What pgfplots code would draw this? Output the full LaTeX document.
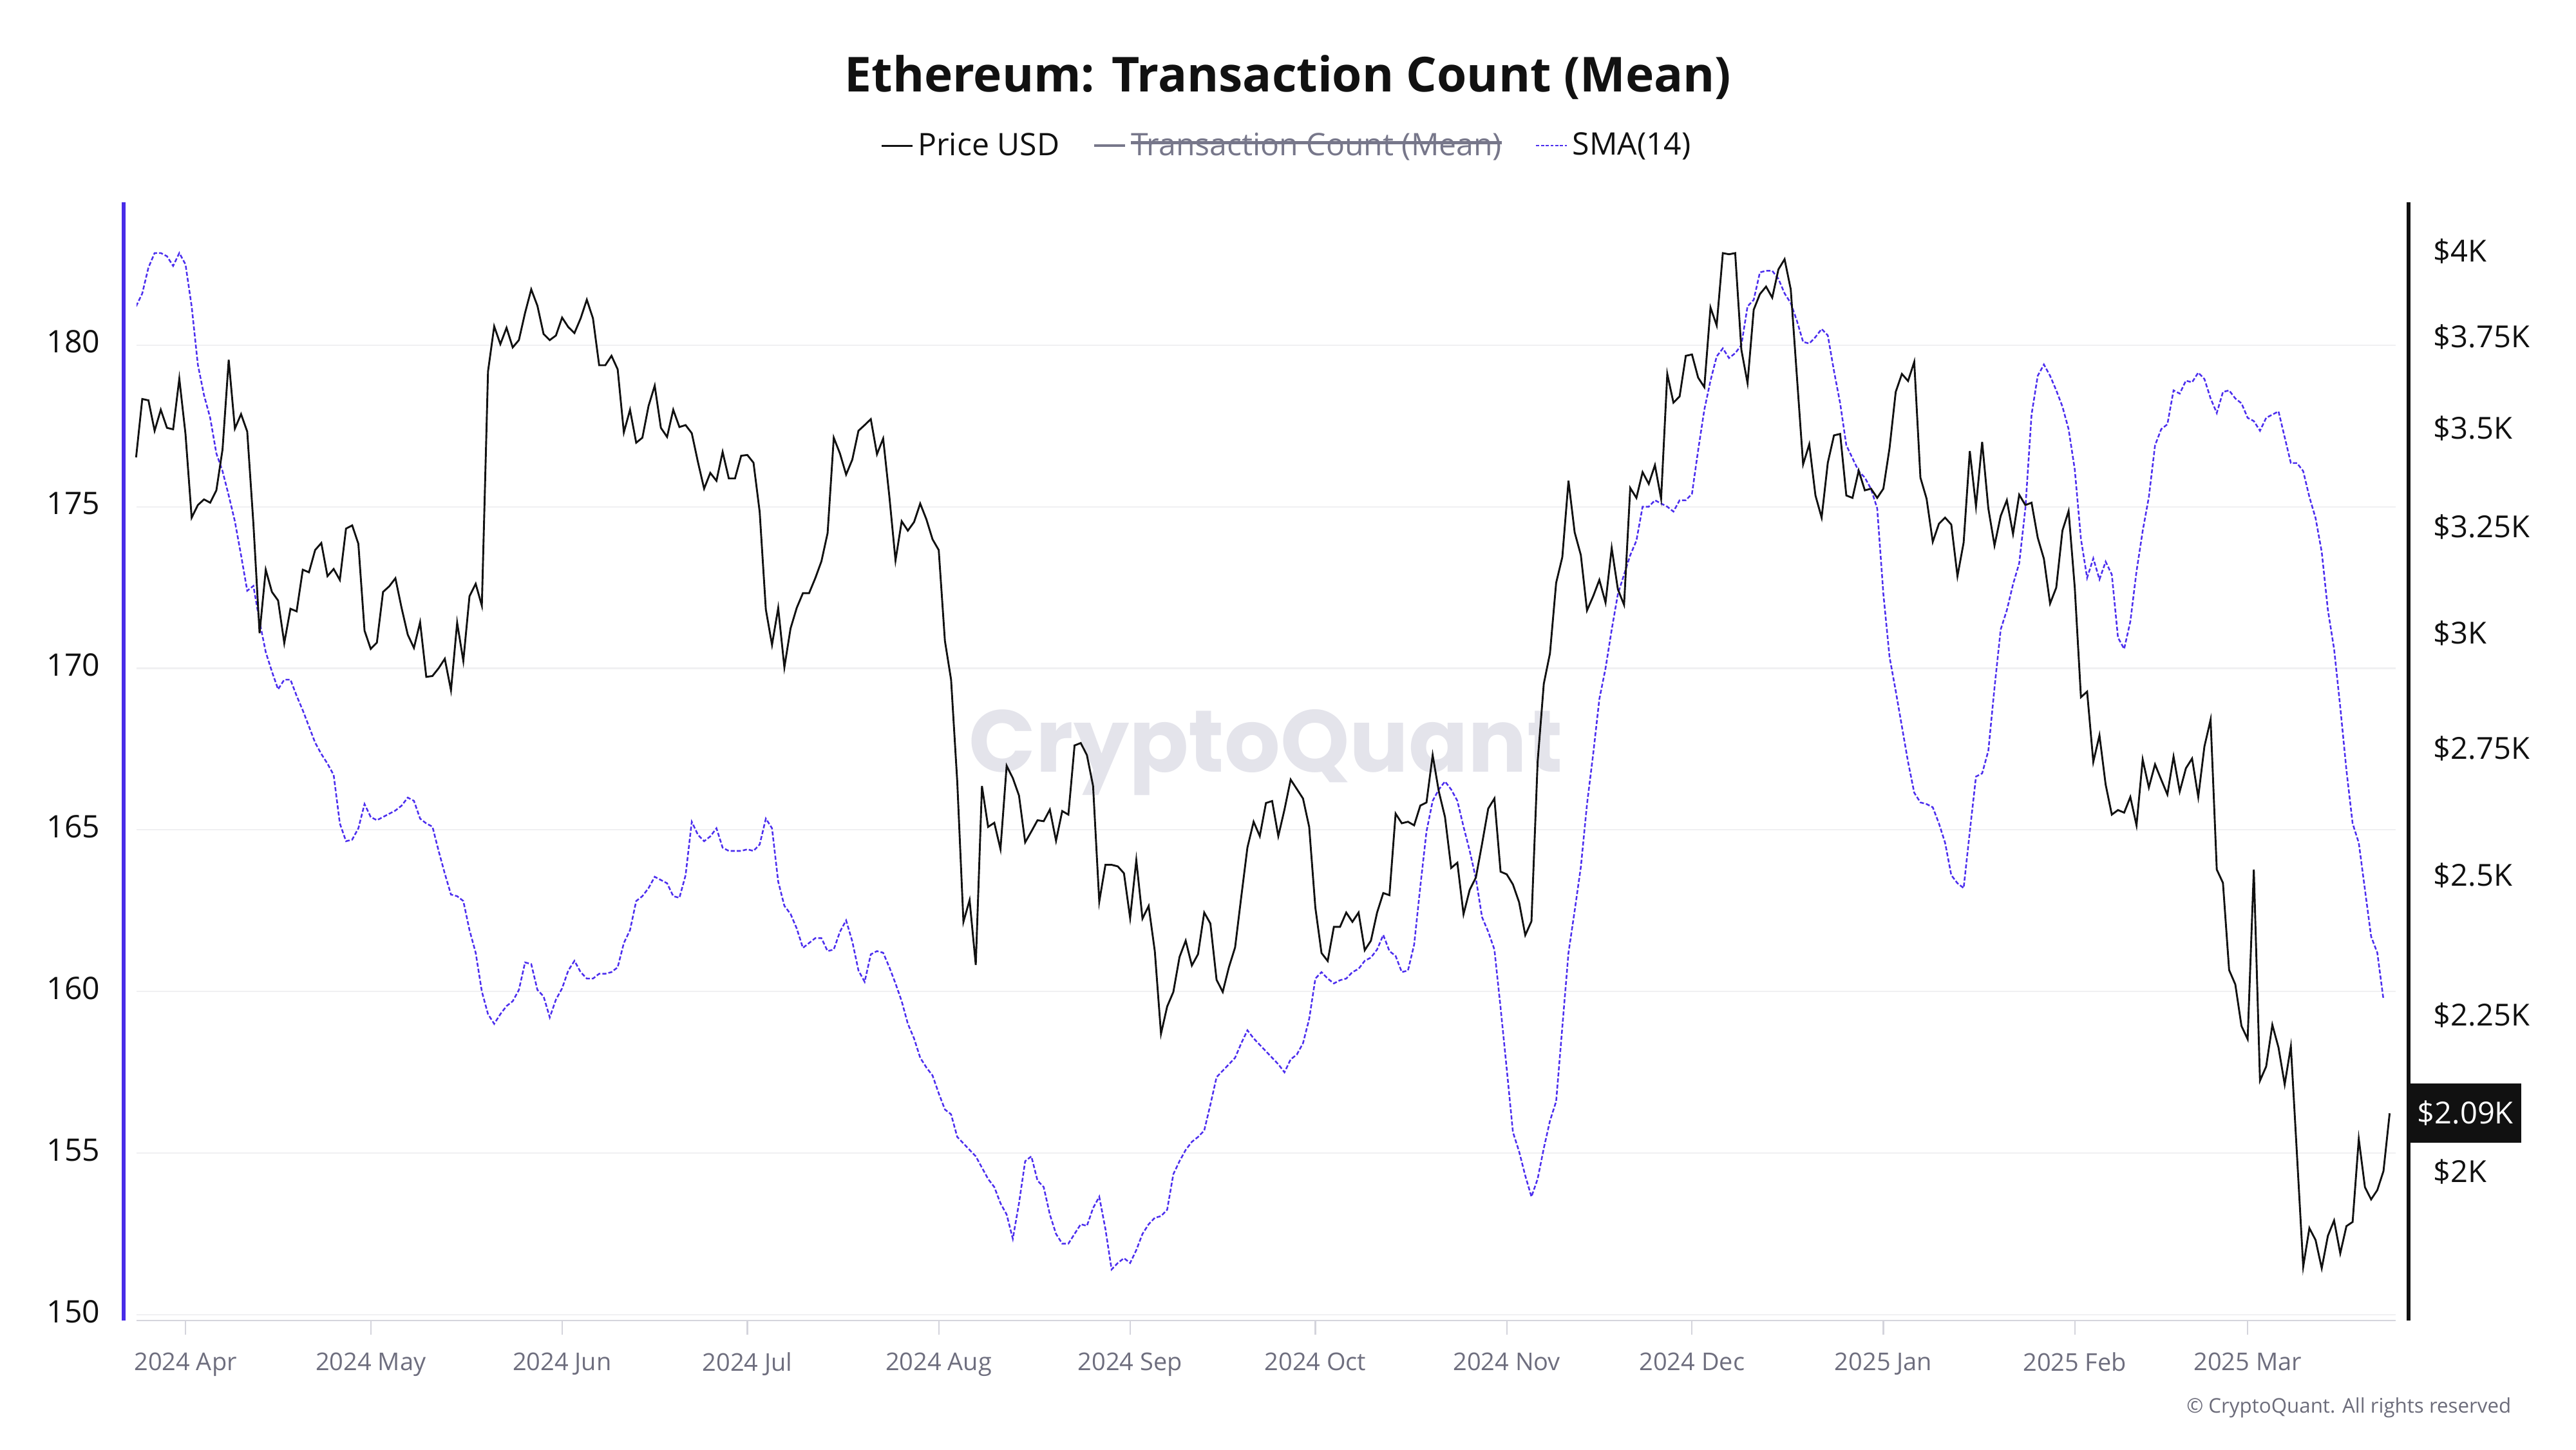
\documentclass[border=0pt]{standalone}
\usepackage{pgfplots}
\pgfplotsset{compat=1.18}
\usepackage{pgfplotstable}
\usepackage{fontspec}
\usepackage{graphicx}
\setmainfont{Open Sans}
\newfontfamily\wmfont{Poppins}
\newlength\stw
\newcommand\strike[1]{\settowidth\stw{#1}\rlap{#1}\raisebox{0.36em}{\rule{\stw}{1.4pt}}}

\definecolor{smablue}{RGB}{76,46,238}
\definecolor{axisblue}{RGB}{72,44,232}
\definecolor{ticktext}{RGB}{110,110,126}
\definecolor{axisgray}{RGB}{212,212,220}
\definecolor{gridgray}{RGB}{240,240,242}
\definecolor{legendgray}{RGB}{119,119,138}
\definecolor{wm}{RGB}{228,228,235}
\definecolor{txt}{RGB}{17,17,17}
\definecolor{copyg}{RGB}{108,108,122}

\pgfplotstableread{
d p
-8 3425
-7 3579
-6 3575
-5 3494
-4 3550
-3 3502
-2 3498
-1 3634
0 3486
1 3273
2 3304
3 3318
4 3310
5 3341
6 3445
7 3686
8 3500
9 3538
10 3492
11 3258
12 3000
13 3147
14 3095
15 3075
16 2978
17 3056
18 3050
19 3147
20 3141
21 3194
22 3211
23 3132
24 3149
25 3123
26 3246
27 3254
28 3209
29 3006
30 2965
31 2979
32 3095
33 3108
34 3127
35 3058
36 2997
37 2967
38 3025
39 2903
40 2905
41 2922
42 2943
43 2874
44 3024
45 2938
46 3085
47 3114
48 3063
49 3654
50 3780
51 3730
52 3776
53 3721
54 3741
55 3819
56 3887
57 3839
58 3758
59 3741
60 3754
61 3805
62 3778
63 3761
64 3803
65 3857
66 3803
67 3671
68 3671
69 3697
70 3660
71 3490
72 3550
73 3463
74 3476
75 3560
76 3615
77 3502
78 3478
79 3550
80 3504
81 3509
82 3488
83 3413
84 3345
85 3385
86 3365
87 3439
88 3371
89 3371
90 3429
91 3431
92 3411
93 3287
94 3054
95 2974
96 3058
97 2924
98 3011
99 3058
100 3092
101 3092
102 3127
103 3167
104 3235
105 3476
106 3435
107 3381
108 3419
109 3494
110 3509
111 3525
112 3433
113 3474
114 3326
115 3169
116 3264
117 3241
118 3262
119 3308
120 3269
121 3220
122 3194
123 2983
124 2897
125 2683
126 2414
127 2454
128 2337
129 2674
130 2593
131 2601
132 2550
133 2715
134 2690
135 2655
136 2563
137 2584
138 2606
139 2604
140 2627
141 2566
142 2624
143 2617
144 2757
145 2762
146 2737
147 2674
148 2451
149 2520
150 2520
151 2517
152 2504
153 2421
154 2529
155 2420
156 2443
157 2361
158 2219
159 2265
160 2290
161 2351
162 2380
163 2336
164 2356
165 2431
166 2411
167 2311
168 2290
169 2333
170 2368
171 2460
172 2553
173 2603
174 2575
175 2640
176 2644
177 2575
178 2627
179 2687
180 2668
181 2649
182 2593
183 2440
184 2358
185 2344
186 2405
187 2405
188 2431
189 2414
190 2431
191 2363
192 2380
193 2431
194 2467
195 2463
196 2619
197 2600
198 2603
199 2596
200 2635
201 2641
202 2737
203 2663
204 2612
205 2514
206 2524
207 2428
208 2473
209 2496
210 2560
211 2629
212 2649
213 2507
214 2502
215 2483
216 2450
217 2390
218 2415
219 2723
220 2888
221 2955
222 3116
223 3177
224 3365
225 3237
226 3182
227 3052
228 3085
229 3123
230 3070
231 3199
232 3101
233 3065
234 3347
235 3322
236 3387
237 3357
238 3405
239 3320
240 3647
241 3569
242 3586
243 3697
244 3701
245 3637
246 3611
247 3834
248 3783
249 3995
250 3991
251 3995
252 3714
253 3622
254 3828
255 3873
256 3895
257 3863
258 3946
259 3976
260 3887
261 3639
262 3407
263 3459
264 3328
265 3273
266 3411
267 3482
268 3486
269 3328
270 3322
271 3391
272 3341
273 3345
274 3322
275 3345
276 3449
277 3598
278 3647
279 3628
280 3680
281 3373
282 3320
283 3214
284 3258
285 3273
286 3256
287 3132
288 3212
289 3441
290 3301
291 3465
292 3296
293 3205
294 3277
295 3316
296 3233
297 3330
298 3304
299 3310
300 3224
301 3173
302 3068
303 3105
304 3241
305 3289
306 3105
307 2859
308 2871
309 2723
310 2778
311 2677
312 2617
313 2626
314 2621
315 2652
316 2596
317 2728
318 2671
319 2718
320 2687
321 2657
322 2734
323 2663
324 2710
325 2730
326 2652
327 2755
328 2811
329 2511
330 2486
331 2328
332 2303
333 2232
334 2210
335 2511
336 2142
337 2165
338 2234
339 2196
340 2136
341 2198
342 2024
343 1862
344 1917
345 1900
346 1860
347 1906
348 1928
349 1881
350 1920
351 1926
352 2050
353 1977
354 1959
355 1973
356 2001
357 2090
}\price

\pgfplotstableread{
d s
-8 181.2
-7 181.6
-6 182.4
-5 182.85
-4 182.85
-3 182.75
-2 182.45
-1 182.85
0 182.5
1 181.2
2 179.4
3 178.45
4 177.75
5 176.65
6 176.1
7 175.35
8 174.55
9 173.5
10 172.4
11 172.55
12 171.45
13 170.5
14 169.9
15 169.35
16 169.65
17 169.65
18 169.15
19 168.7
20 168.2
21 167.7
22 167.35
23 167.05
24 166.7
25 165.2
26 164.65
27 164.7
28 165.05
29 165.8
30 165.4
31 165.3
32 165.4
33 165.5
34 165.6
35 165.75
36 166.0
37 165.9
38 165.35
39 165.2
40 165.1
41 164.35
42 163.65
43 163.0
44 162.95
45 162.8
46 161.9
47 161.2
48 160.0
49 159.3
50 159.0
51 159.3
52 159.55
53 159.7
54 160.05
55 160.9
56 160.85
57 160.05
58 159.85
59 159.2
60 159.75
61 160.1
62 160.65
63 160.95
64 160.6
65 160.4
66 160.4
67 160.55
68 160.55
69 160.6
70 160.75
71 161.5
72 161.9
73 162.8
74 162.95
75 163.2
76 163.55
77 163.45
78 163.35
79 162.95
80 162.9
81 163.6
82 165.25
83 164.85
84 164.65
85 164.8
86 165.05
87 164.45
88 164.35
89 164.35
90 164.35
91 164.4
92 164.35
93 164.55
94 165.35
95 165.05
96 163.4
97 162.65
98 162.4
99 161.95
100 161.35
101 161.5
102 161.65
103 161.65
104 161.25
105 161.3
106 161.85
107 162.2
108 161.55
109 160.65
110 160.3
111 161.15
112 161.25
113 161.2
114 160.75
115 160.25
116 159.7
117 159.0
118 158.55
119 157.95
120 157.65
121 157.4
122 156.85
123 156.35
124 156.2
125 155.5
126 155.3
127 155.1
128 154.9
129 154.55
130 154.2
131 153.95
132 153.45
133 153.1
134 152.35
135 153.45
136 154.75
137 154.9
138 154.15
139 153.95
140 153.1
141 152.5
142 152.2
143 152.2
144 152.5
145 152.8
146 152.75
147 153.3
148 153.65
149 152.65
150 151.4
151 151.6
152 151.75
153 151.6
154 152.0
155 152.5
156 152.8
157 153.0
158 153.05
159 153.25
160 154.35
161 154.75
162 155.1
163 155.35
164 155.5
165 155.7
166 156.5
167 157.35
168 157.55
169 157.75
170 157.95
171 158.4
172 158.8
173 158.55
174 158.35
175 158.15
176 157.95
177 157.75
178 157.5
179 157.9
180 158.05
181 158.4
182 159.15
183 160.4
184 160.6
185 160.4
186 160.25
187 160.35
188 160.4
189 160.6
190 160.7
191 160.95
192 161.05
193 161.3
194 161.75
195 161.25
196 161.1
197 160.6
198 160.65
199 161.45
200 163.25
201 164.95
202 165.9
203 166.25
204 166.5
205 166.25
206 165.9
207 165.1
208 164.35
209 163.5
210 162.3
211 161.85
212 161.3
213 159.5
214 157.6
215 155.65
216 155.05
217 154.3
218 153.65
219 154.2
220 155.15
221 156.0
222 156.6
223 158.9
224 161.2
225 162.5
226 163.85
227 165.8
228 167.35
229 169.05
230 170.0
231 171.2
232 172.3
233 172.9
234 173.5
235 173.95
236 175.0
237 175.0
238 175.2
239 175.1
240 175.0
241 174.85
242 175.2
243 175.2
244 175.4
245 176.75
246 178.0
247 178.9
248 179.65
249 179.9
250 179.6
251 179.75
252 180.0
253 181.2
254 181.4
255 182.25
256 182.3
257 182.3
258 182.05
259 181.6
260 181.3
261 180.75
262 180.1
263 180.05
264 180.25
265 180.5
266 180.3
267 179.2
268 178.2
269 176.9
270 176.5
271 176.1
272 175.9
273 175.55
274 174.95
275 172.3
276 170.35
277 169.3
278 168.2
279 167.1
280 166.15
281 165.85
282 165.8
283 165.7
284 165.2
285 164.6
286 163.6
287 163.35
288 163.2
289 164.95
290 166.65
291 166.75
292 167.45
293 169.4
294 171.2
295 171.8
296 172.6
297 173.25
298 174.95
299 177.85
300 179.05
301 179.4
302 179.05
303 178.6
304 178.1
305 177.4
306 176.15
307 174.0
308 172.8
309 173.4
310 172.75
311 173.3
312 172.9
313 170.95
314 170.6
315 171.45
316 173.0
317 174.25
318 175.3
319 176.9
320 177.4
321 177.55
322 178.6
323 178.5
324 178.9
325 178.85
326 179.15
327 178.95
328 178.35
329 177.9
330 178.55
331 178.6
332 178.35
333 178.2
334 177.75
335 177.65
336 177.35
337 177.75
338 177.85
339 177.95
340 177.15
341 176.35
342 176.35
343 176.1
344 175.3
345 174.65
346 173.6
347 171.8
348 170.6
349 168.8
350 166.85
351 165.2
352 164.6
353 163.15
354 161.7
355 161.2
356 159.75
}\sma

\begin{document}
\begin{tikzpicture}
\useasboundingbox (0,0) rectangle (40cm,22.5cm);
% watermark
\node[text=wm, font=\wmfont\bfseries] at (19.66cm,10.82cm) {\resizebox{9.22cm}{!}{CryptoQuant}};

\begin{axis}[
  at={(2.12cm,2.00cm)}, anchor=south west, scale only axis,
  width=35.08cm, height=17.36cm,
  xmin=-7.93, xmax=357.98, ymin=149.82, ymax=184.42,
  axis x line*=bottom, axis y line*=left,
  x axis line style={draw=axisgray, line width=0.6pt},
  y axis line style={draw=none},
  tick align=outside, major tick length=0.22cm,
  xtick={0,30,61,91,122,153,183,214,244,275,306,334},
  xticklabels={2024 Apr,2024 May,2024 Jun,2024 Jul,2024 Aug,2024 Sep,2024 Oct,2024 Nov,2024 Dec,2025 Jan,2025 Feb,2025 Mar},
  x tick style={draw=axisgray, line width=0.6pt},
  xticklabel style={font=\fontsize{10.8}{13}\selectfont, text=ticktext, inner sep=0pt, anchor=north, yshift=-0.27cm},
  ytick={150,155,160,165,170,175,180},
  yticklabels={150,155,160,165,170,175,180},
  y tick style={draw=none},
  yticklabel style={font=\fontsize{13.7}{16}\selectfont, text=txt, inner sep=0pt, anchor=east, xshift=-0.34cm, yshift=0.05cm},
  ymajorgrids, grid style={draw=gridgray, line width=0.6pt},
]
\addplot[smablue, line width=0.72pt, dash pattern=on 1.8pt off 0.9pt] table[x=d, y=s] {\sma};
\end{axis}

\begin{axis}[
  at={(2.12cm,2.00cm)}, anchor=south west, scale only axis,
  width=35.08cm, height=17.36cm,
  xmin=-7.93, xmax=357.98,
  ymode=log, ymin=1788.4, ymax=4150.4,
  hide x axis,
  axis y line*=right, y axis line style={draw=none},
  y tick style={draw=none}, yminorticks=false, major tick length=0.22cm, tick align=outside,
  ytick={2000,2250,2500,2750,3000,3250,3500,3750,4000},
  yticklabels={\$2K,\$2.25K,\$2.5K,\$2.75K,\$3K,\$3.25K,\$3.5K,\$3.75K,\$4K},
  yticklabel style={font=\fontsize{13.4}{16}\selectfont, text=txt, inner sep=0pt, anchor=west, xshift=0.36cm},
  clip=false,
  legend columns=3,
  legend style={at={(axis description cs:0.5097,1.0505)}, anchor=center, draw=none, fill=none,
    font=\fontsize{13.7}{16}\selectfont, text=txt,
    /tikz/every even column/.append style={column sep=0.45cm}},
  legend image code/.code={\draw[#1] (0cm,0cm) -- (0.48cm,0cm);},
]
\addplot[txt, line width=0.82pt] table[x=d, y=p] {\price};
\addlegendentry{Price USD}
\addlegendimage{legendgray, line width=1.2pt}
\addlegendentry{\textcolor{legendgray}{\strike{Transaction Count (Mean)}}}
\addlegendimage{smablue, line width=0.72pt, dash pattern=on 1.4pt off 0.7pt}
\addlegendentry{SMA(14)}
\node[fill=txt, text=white, anchor=west, inner sep=0pt, minimum width=1.73cm, minimum height=0.92cm,
  font=\fontsize{13.4}{16}\selectfont] at ([xshift=0.21cm]axis cs:357.98,2090) {\$2.09K};
\end{axis}

% axis lines
\draw[axisblue, line width=1.6pt] (1.92cm,2.00cm) -- (1.92cm,19.36cm);
\draw[txt, line width=1.5pt] (37.40cm,2.00cm) -- (37.40cm,19.36cm);

% title
\node[anchor=base, font=\fontsize{21.3}{25}\selectfont\bfseries, text=txt] at (20cm,21.07cm) {Ethereum: Transaction Count (Mean)};
% copyright
\node[anchor=base east, inner sep=0pt, font=\fontsize{8.9}{11}\selectfont, text=copyg] at (39.00cm,0.57cm) {© CryptoQuant. All rights reserved};
\end{tikzpicture}
\end{document}
